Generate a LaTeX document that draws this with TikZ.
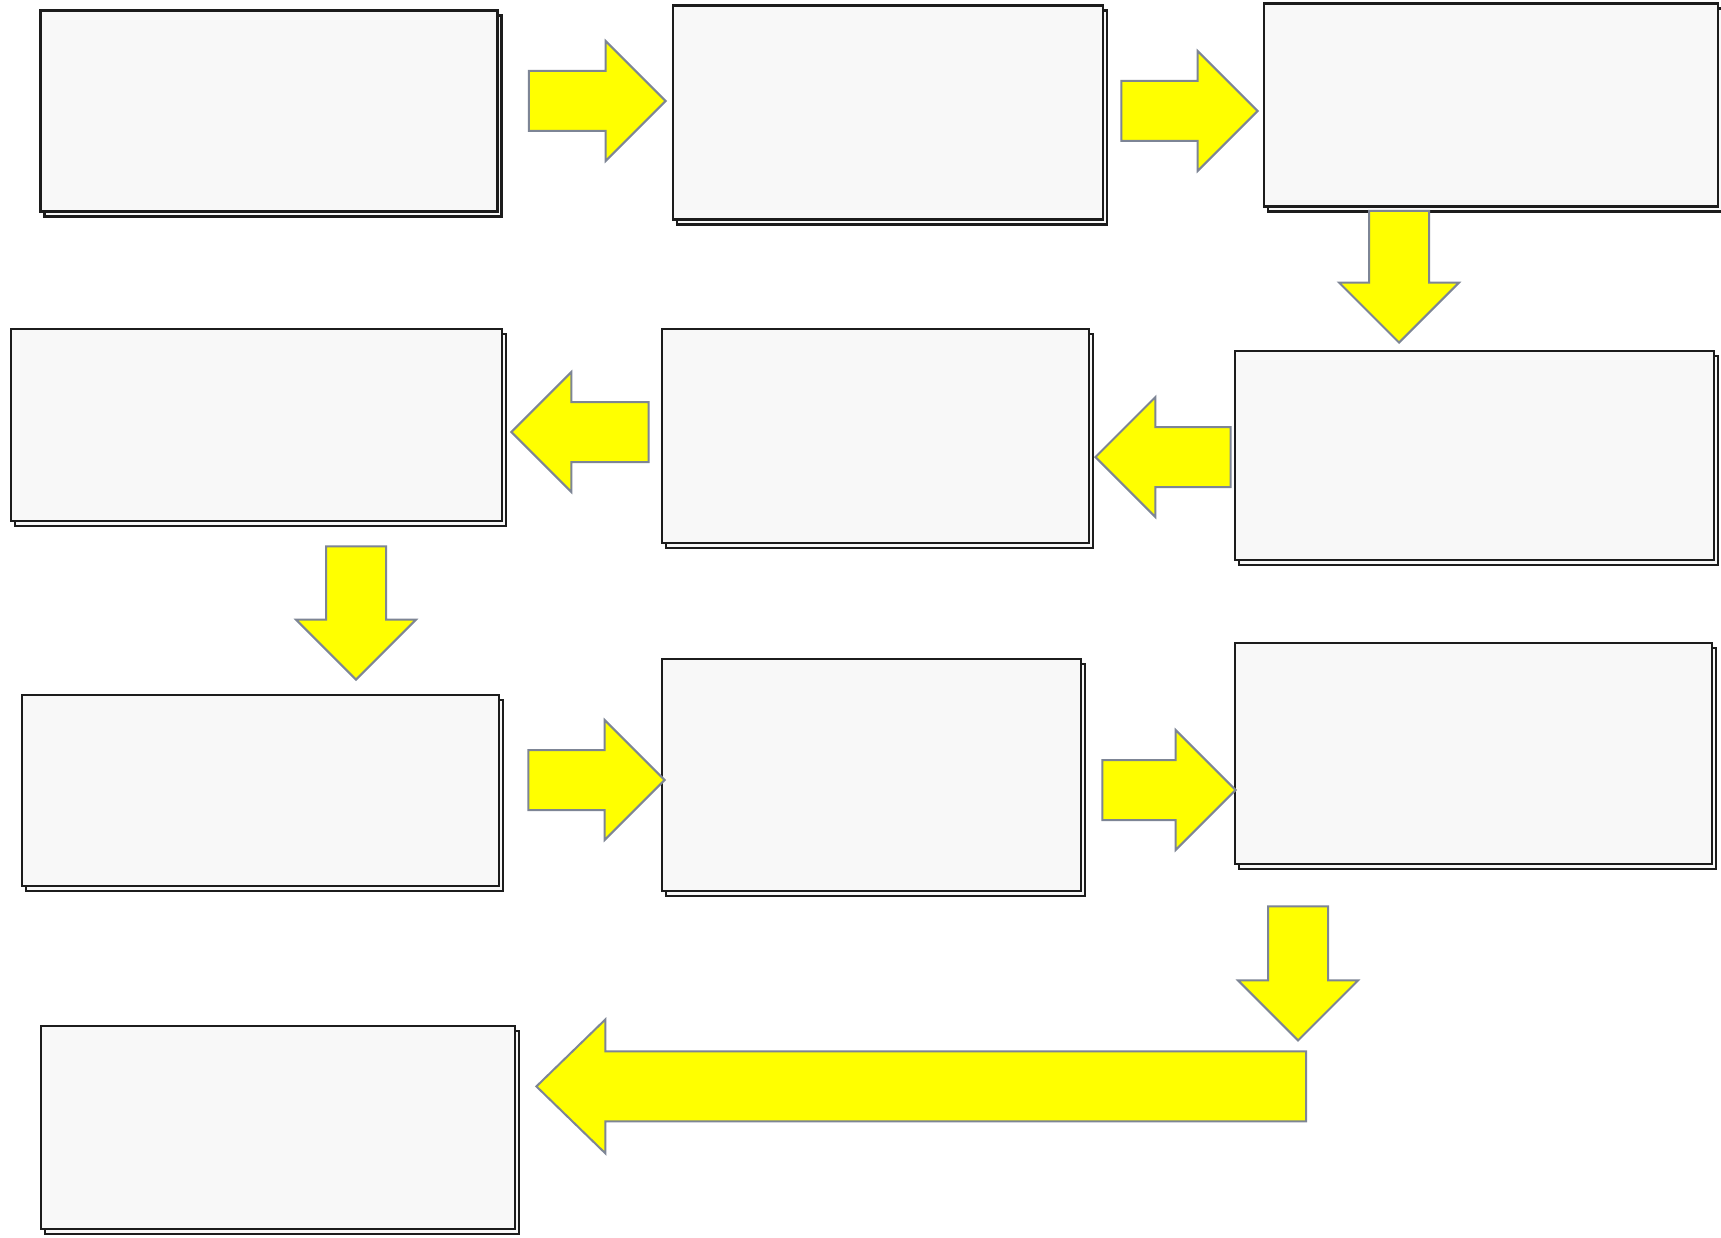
\documentclass[tikz,border=0pt]{standalone}
\usepackage{xcolor}
\usepackage{tikz}
\usetikzlibrary{calc,shadows}
\definecolor{Paper}{HTML}{F8F8F8}
\definecolor{Ink}{HTML}{1C1C1C}
\definecolor{Signal}{HTML}{FFFF00}
\definecolor{Rim}{HTML}{7D8595}

\newcommand{\shaftw}{30pt}
\newcommand{\headw}{60pt}
\newcommand{\headl}{60pt}
% block arrow: #1 tail, #2 tip
\newcommand{\bigarrow}[2]{%
  \path #1 coordinate (ba-t) #2 coordinate (ba-h);
  \path ($(ba-h)!\headl!(ba-t)$) coordinate (ba-b);
  \draw[yellowarrow] ($(ba-t)!\shaftw!90:(ba-h)$) -- ($(ba-b)!\shaftw!90:(ba-h)$)
    -- ($(ba-b)!\headw!90:(ba-h)$) -- (ba-h) -- ($(ba-b)!\headw!-90:(ba-h)$)
    -- ($(ba-b)!\shaftw!-90:(ba-h)$) -- ($(ba-t)!\shaftw!-90:(ba-h)$) -- cycle;
}

\begin{document}
\begin{tikzpicture}[
  x=1pt,y=-1pt,
  paperbox/.style={draw=Ink,line width=2.8pt,fill=Paper,inner sep=0pt,
    copy shadow={shadow xshift=4pt,shadow yshift=-5pt}},
  yellowarrow/.style={fill=Signal,draw=Rim,line width=2pt,line join=miter}
]
\useasboundingbox[fill=white] (0,0) rectangle (1721,1238);
% boxes, row by row
\node[paperbox,minimum width=457pt,minimum height=201pt] (b1) at (269,111) {};
\node[paperbox,minimum width=430pt,minimum height=214pt] (b2) at (888,112.5) {};
\node[paperbox,minimum width=454pt,minimum height=203pt] (b3) at (1491,105) {};
\node[paperbox,minimum width=479pt,minimum height=209pt] (b4) at (1474.5,455.5) {};
\node[paperbox,minimum width=427pt,minimum height=214pt] (b5) at (875.5,436) {};
\node[paperbox,minimum width=491pt,minimum height=192pt] (b6) at (256.5,425) {};
\node[paperbox,minimum width=477pt,minimum height=191pt] (b7) at (260.5,790.5) {};
\node[paperbox,minimum width=419pt,minimum height=232pt] (b8) at (871.5,775) {};
\node[paperbox,minimum width=477pt,minimum height=221pt] (b9) at (1473.5,753.5) {};
\node[paperbox,minimum width=474pt,minimum height=203pt] (b10) at (278,1127.5) {};
\coordinate (turn) at ($(b9.south)+(-175.5,175)$);

% arrows
\bigarrow{($(b1.east)+(30,-10)$)}{($(b2.west)+(-6,-11.5)$)}
\bigarrow{($(b2.east)+(17,-1.5)$)}{($(b3.west)+(-5,6)$)}
\bigarrow{($(b3.south)+(-92,3)$)}{($(b4.north)+(-75.5,-7)$)}
\bigarrow{($(b4.west)+(-3,1.5)$)}{($(b5.east)+(5,21)$)}
\bigarrow{($(b5.west)+(-12,-4)$)}{($(b6.east)+(8,7)$)}
\bigarrow{($(b6.south)+(99.5,24)$)}{($(b7.north)+(95.5,-14)$)}
\bigarrow{($(b7.east)+(28,-10.5)$)}{($(b8.west)+(4,5)$)}
\bigarrow{($(b8.east)+(20,15)$)}{($(b9.west)+(2,36.5)$)}
\bigarrow{($(b9.south)+(-175.5,41)$)}{(turn)}
\renewcommand{\shaftw}{35pt}\renewcommand{\headw}{67pt}\renewcommand{\headl}{69pt}
\bigarrow{($(turn)+(8,46)$)}{($(b10.east |- turn)+(20,46)$)}
\end{tikzpicture}
\end{document}
